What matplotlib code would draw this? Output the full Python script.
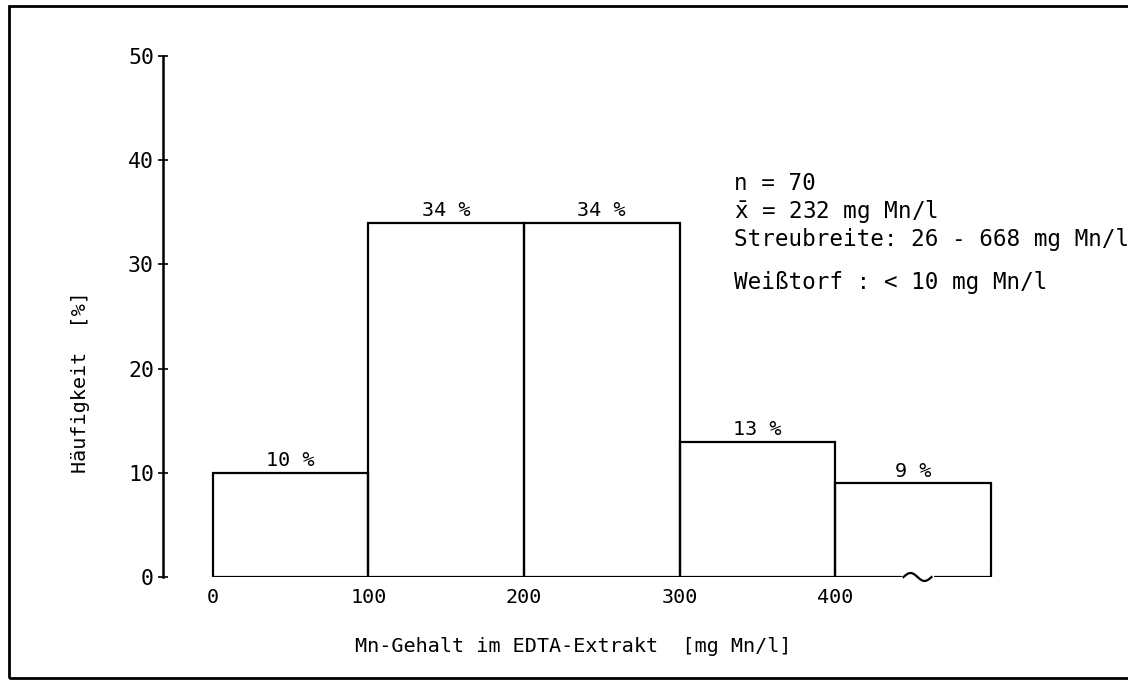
import numpy as np
import matplotlib.pyplot as plt
from matplotlib.patches import Rectangle

plt.rcParams['font.family'] = ['DejaVu Sans Mono', 'DejaVu Sans']
plt.rcParams['mathtext.fontset'] = 'custom'
plt.rcParams['mathtext.rm'] = 'DejaVu Sans Mono'

# class edges (mg Mn/l) and share of samples (%)
bin_left = [0, 100, 200, 300, 400]
bin_width = 100
share = [10, 34, 34, 13, 9]
bar_labels = ['10 %', '34 %', '34 %', '13 %', '9 %']
x_ticks = [0, 100, 200, 300, 400]
y_ticks = [0, 10, 20, 30, 40, 50]
info_lines = ['n = 70',
              r'$\bar{\mathrm{x}}$ = 232 mg Mn/l',
              'Streubreite: 26 - 668 mg Mn/l',
              'Weißtorf : < 10 mg Mn/l']
info_y = [37.8, 35.1, 32.4, 28.3]
break_x = 453  # axis break symbol on the last class

fig = plt.figure(figsize=(11.28, 6.81), dpi=100)
ax = fig.add_axes([163 / 1128, 104 / 681, 837 / 1128, 521 / 681])

ax.bar(bin_left, share, width=bin_width, align='edge', fill=False,
       edgecolor='black', linewidth=1.6)
for xl, h, lab in zip(bin_left, share, bar_labels):
    ax.text(xl + bin_width / 2, h + 0.25, lab, ha='center', va='bottom',
            fontsize=14.5)

# little break mark on the base line
t = np.linspace(0, 1, 40)
ax.plot([break_x - 9, break_x + 9], [0, 0], color='white', lw=3,
        zorder=2.5, clip_on=False)
ax.plot(break_x - 9 + 18 * t, 0.38 * np.sin(2 * np.pi * t), color='black',
        lw=1.6, zorder=3, clip_on=False)

ax.set_xlim(-32, 506)
ax.set_ylim(0, 50)
for s in ['top', 'right', 'bottom']:
    ax.spines[s].set_visible(False)
ax.spines['left'].set_linewidth(1.8)

ax.set_yticks(y_ticks)
ax.set_xticks(x_ticks)
ax.tick_params(axis='y', direction='inout', length=7, width=1.2,
               labelsize=15.5, pad=3)
ax.tick_params(axis='x', length=0, labelsize=14.5, pad=8)

ax.set_ylabel('Häufigkeit  [%]', fontsize=14.5)
ax.yaxis.set_label_coords(-73 / 837, (577 - 382) / 521)
ax.set_xlabel('Mn-Gehalt im EDTA-Extrakt  [mg Mn/l]', fontsize=14.5)
ax.xaxis.set_label_coords((573 - 163) / 837, -60 / 521)

for line, yy in zip(info_lines, info_y):
    ax.text(335, yy, line, fontsize=16.3, va='center', ha='left',
            clip_on=False)

# scanned page frame, right side runs off the page
fig.patches.append(Rectangle((9 / 1128, 3 / 681), 1.2, 672 / 681,
                             transform=fig.transFigure, fill=False,
                             edgecolor='black', linewidth=2))

fig.savefig('out.png', dpi=100)
